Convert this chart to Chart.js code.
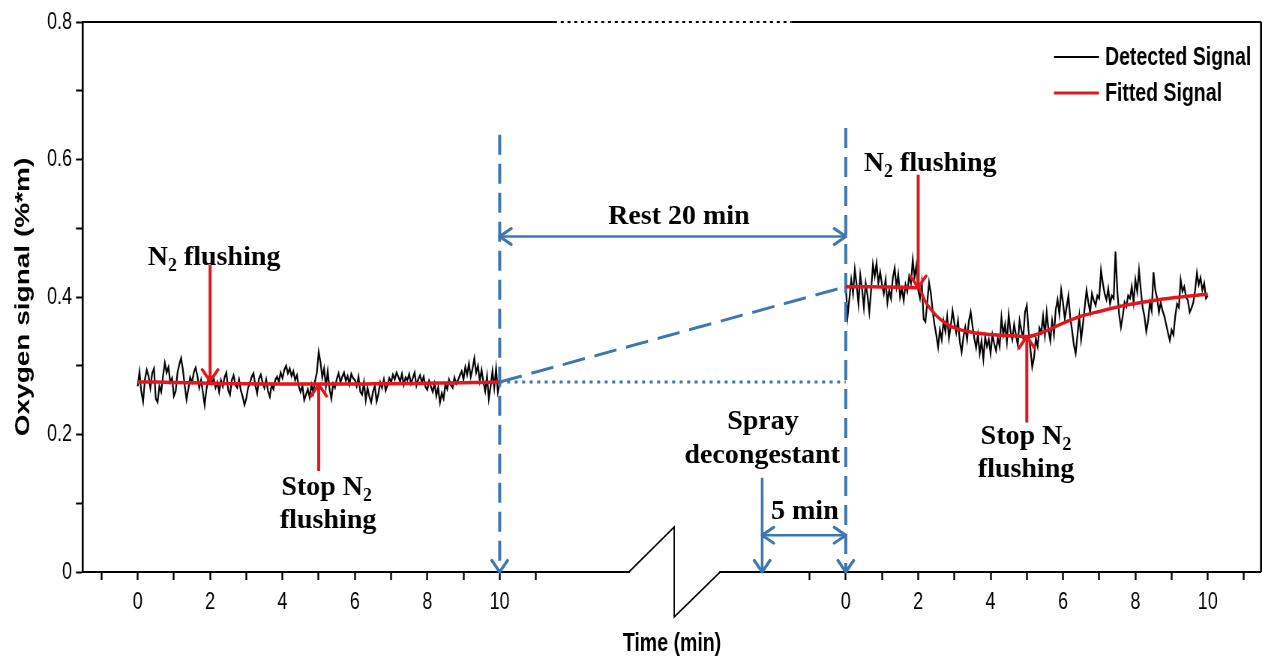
<!DOCTYPE html>
<html>
<head>
<meta charset="utf-8">
<script src="https://cdn.jsdelivr.net/npm/chart.js@4.4.0/dist/chart.umd.min.js"></script>
<style>
  html, body { margin: 0; padding: 0; background: #fff; overflow: hidden; }
  /* the original figure is squeezed horizontally; the canvas is drawn wide and shown at 1262px */
  #chart { display: block; width: 1262px !important; height: 659px !important; }
</style>
</head>
<body>
<canvas id="chart" width="1683" height="659" style="width:1262px;height:659px"></canvas>
<script>
// sampling step of the detected trace (min)
const STEP = 0.05;
// the second session is drawn after the axis break, shifted by this many axis units
const RIGHT_SHIFT = 19.56;

// detected signal, first session, t = 0 .. 10 min
const detectedBefore = [
  0.270, 0.291, 0.262, 0.248, 0.280, 0.294, 0.285, 0.268, 0.289, 0.296,
  0.252, 0.247, 0.270, 0.262, 0.285, 0.304, 0.290, 0.298, 0.276, 0.282,
  0.256, 0.263, 0.290, 0.302, 0.311, 0.294, 0.271, 0.251, 0.266, 0.283,
  0.276, 0.290, 0.297, 0.285, 0.268, 0.279, 0.262, 0.243, 0.266, 0.280,
  0.288, 0.274, 0.281, 0.268, 0.276, 0.262, 0.279, 0.270, 0.283, 0.290,
  0.265, 0.258, 0.279, 0.286, 0.272, 0.268, 0.280, 0.264, 0.255, 0.243,
  0.252, 0.268, 0.275, 0.284, 0.289, 0.271, 0.260, 0.281, 0.287, 0.276,
  0.268, 0.280, 0.263, 0.255, 0.272, 0.266, 0.279, 0.284, 0.277, 0.290,
  0.282, 0.294, 0.300, 0.289, 0.296, 0.285, 0.292, 0.279, 0.286, 0.270,
  0.262, 0.271, 0.250, 0.258, 0.266, 0.254, 0.272, 0.260, 0.278, 0.290,
  0.320, 0.305, 0.283, 0.296, 0.270, 0.292, 0.266, 0.252, 0.274, 0.268,
  0.281, 0.289, 0.276, 0.284, 0.290, 0.278, 0.285, 0.273, 0.288, 0.282,
  0.279, 0.270, 0.284, 0.262, 0.258, 0.276, 0.250, 0.268, 0.255, 0.247,
  0.262, 0.271, 0.248, 0.259, 0.276, 0.268, 0.280, 0.264, 0.272, 0.282,
  0.276, 0.287, 0.280, 0.290, 0.284, 0.277, 0.288, 0.272, 0.283, 0.279,
  0.288, 0.274, 0.282, 0.290, 0.271, 0.280, 0.286, 0.276, 0.284, 0.269,
  0.265, 0.278, 0.270, 0.262, 0.274, 0.256, 0.268, 0.246, 0.260, 0.252,
  0.273, 0.266, 0.280, 0.272, 0.268, 0.283, 0.274, 0.279, 0.286, 0.292,
  0.280, 0.298, 0.287, 0.303, 0.284, 0.296, 0.311, 0.290, 0.300, 0.278,
  0.294, 0.276, 0.263, 0.285, 0.252, 0.270, 0.292, 0.268, 0.296, 0.262,
  0.275
];

// detected signal, second session (after decongestant), t = 0 .. 10 min
const detectedAfter = [
  0.415, 0.372, 0.398, 0.425, 0.405, 0.440, 0.418, 0.390, 0.432, 0.412,
  0.385, 0.420, 0.402, 0.378, 0.410, 0.447, 0.430, 0.449, 0.420, 0.436,
  0.418, 0.405, 0.425, 0.392, 0.410, 0.398, 0.428, 0.442, 0.415, 0.433,
  0.400, 0.412, 0.395, 0.418, 0.408, 0.430, 0.420, 0.454, 0.428, 0.446,
  0.410, 0.398, 0.420, 0.368, 0.364, 0.392, 0.421, 0.405, 0.380, 0.360,
  0.345, 0.327, 0.352, 0.338, 0.365, 0.350, 0.372, 0.340, 0.358, 0.380,
  0.362, 0.348, 0.366, 0.335, 0.320, 0.342, 0.356, 0.338, 0.365, 0.378,
  0.358, 0.340, 0.326, 0.345, 0.318, 0.336, 0.310, 0.342, 0.328, 0.338,
  0.318, 0.345, 0.332, 0.322, 0.340, 0.328, 0.370, 0.345, 0.360, 0.335,
  0.374, 0.350, 0.338, 0.360, 0.345, 0.330, 0.366, 0.352, 0.340, 0.378,
  0.388, 0.350, 0.325, 0.298, 0.312, 0.340, 0.328, 0.355, 0.348, 0.372,
  0.345, 0.378, 0.352, 0.336, 0.365, 0.345, 0.382, 0.396, 0.375, 0.410,
  0.392, 0.368, 0.385, 0.402, 0.370, 0.352, 0.330, 0.318, 0.345, 0.372,
  0.338, 0.360, 0.385, 0.410, 0.392, 0.378, 0.405, 0.395, 0.388, 0.402,
  0.398, 0.439, 0.420, 0.405, 0.396, 0.412, 0.390, 0.402, 0.398, 0.466,
  0.410, 0.375, 0.356, 0.372, 0.392, 0.386, 0.402, 0.398, 0.415, 0.392,
  0.425, 0.408, 0.439, 0.410, 0.385, 0.372, 0.350, 0.365, 0.392, 0.380,
  0.436, 0.410, 0.398, 0.378, 0.392, 0.380, 0.372, 0.360, 0.348, 0.337,
  0.352, 0.345, 0.372, 0.390, 0.385, 0.425, 0.408, 0.415, 0.400, 0.395,
  0.378, 0.384, 0.392, 0.410, 0.435, 0.418, 0.428, 0.410, 0.420, 0.398,
  0.402
];

// fitted signal
const fittedBeforeTime = [0, 0.5, 1, 1.5, 2, 2.5, 3, 3.5, 4, 4.5, 5, 5.5, 6, 6.5, 7, 7.5, 8, 8.5, 9, 9.5, 10];
const fittedBefore = [0.2765, 0.2762, 0.2758, 0.2752, 0.2745, 0.2740, 0.2737, 0.2735, 0.2734, 0.2733, 0.2733,
  0.2734, 0.2735, 0.2737, 0.2739, 0.2742, 0.2745, 0.2749, 0.2753, 0.2758, 0.2763];
const fittedAfterTime = [0, 0.5, 1, 1.5, 2, 2.1, 2.2, 2.35, 2.5, 2.75, 3, 3.5, 4, 4.5, 5, 5.5, 6, 6.5, 7, 7.5, 8, 8.5, 9, 9.5, 10];
const fittedAfter = [0.4150, 0.4148, 0.4146, 0.4143, 0.4135, 0.4050, 0.3930, 0.3820, 0.3730, 0.3620, 0.3550, 0.3485,
  0.3455, 0.3435, 0.3425, 0.3500, 0.3620, 0.3720, 0.3790, 0.3855, 0.3905, 0.3950, 0.3985, 0.4015, 0.4040];

const xTickLabels = ['0', '2', '4', '6', '8', '10'];
const xTickMinutes = [-1, 0, 1, 2, 3, 4, 5, 6, 7, 8, 9, 10, 11];
const yTickLabels = ['0', '0.2', '0.4', '0.6', '0.8'];

const flushOn = 2;   // N2 flushing starts (min)
const flushOff = 5;  // N2 flushing stops (min)
const sprayBefore = 2.31; // spray, minutes before second session (schematic)

const BLUE = '#3d77b1';
const RED = '#e3161e';
const SANS = "'Liberation Sans', Arial, sans-serif";
const SERIF = "'Liberation Serif', 'Times New Roman', serif";

// horizontal squeeze of the displayed canvas
const SQ = 1262 / 1683;
const hx = (px) => px / SQ;

const u = (t, panel) => panel === 1 ? t + RIGHT_SHIFT : t;
const restFrom = u(10, 0);
const restTo = u(0, 1);
const sprayAt = u(-sprayBefore, 1);
const levelBefore = fittedBefore[fittedBefore.length - 1];
const levelAfter = fittedAfter[0];

const seg = (pts) => pts.map(([x, y]) => ({ x, y }));

const lineSet = (data, color, width, dash, order) => ({
  data, borderColor: color, borderWidth: width, borderDash: dash || [],
  pointRadius: 0, tension: 0, fill: false, order
});

const datasets = [
  lineSet(detectedBefore.map((v, i) => ({ x: u(i * STEP, 0), y: v })), '#000', 2.2, null, 4),
  lineSet(detectedAfter.map((v, i) => ({ x: u(i * STEP, 1), y: v })), '#000', 2.2, null, 4),
  Object.assign(lineSet(fittedBefore.map((v, i) => ({ x: u(fittedBeforeTime[i], 0), y: v })), RED, 3.5, null, 2),
    { cubicInterpolationMode: 'monotone' }),
  Object.assign(lineSet(fittedAfter.map((v, i) => ({ x: u(fittedAfterTime[i], 1), y: v })), RED, 3.5, null, 2),
    { cubicInterpolationMode: 'monotone' }),
  // rest period guides
  lineSet(seg([[restFrom, 0.636], [restFrom, 0]]), BLUE, 4, [20, 9], 3),
  lineSet(seg([[restTo, 0.646], [restTo, 0]]), BLUE, 4, [20, 9], 3),
  lineSet(seg([[restFrom, levelBefore], [restTo, levelAfter]]), BLUE, 3, [30, 13], 3),
  lineSet(seg([[restFrom, levelBefore], [restTo, levelBefore]]), BLUE, 3, [4, 6], 3),
  lineSet(seg([[restFrom, 0.488], [restTo, 0.488]]), BLUE, 2.5, null, 3),
  lineSet(seg([[sprayAt, 0.137], [sprayAt, 0]]), BLUE, 3.5, null, 3),
  lineSet(seg([[sprayAt, 0.0535], [restTo, 0.0535]]), BLUE, 2.5, null, 3),
  // red event arrows
  lineSet(seg([[u(flushOn, 0), 0.447], [u(flushOn, 0), 0.2775]]), RED, 4, null, 1),
  lineSet(seg([[u(flushOff, 0), 0.147], [u(flushOff, 0), 0.2727]]), RED, 4, null, 1),
  lineSet(seg([[u(flushOn, 1), 0.578], [u(flushOn, 1), 0.4138]]), RED, 4, null, 1),
  lineSet(seg([[u(flushOff, 1), 0.2175], [u(flushOff, 1), 0.3425]]), RED, 4, null, 1)
];

const heads = [
  { x: restFrom, y: 0, dir: Math.PI / 2, color: BLUE },
  { x: restTo, y: 0, dir: Math.PI / 2, color: BLUE },
  { x: sprayAt, y: 0, dir: Math.PI / 2, color: BLUE },
  { x: restFrom, y: 0.488, dir: Math.PI, color: BLUE },
  { x: restTo, y: 0.488, dir: 0, color: BLUE },
  { x: sprayAt, y: 0.0535, dir: Math.PI, color: BLUE },
  { x: restTo, y: 0.0535, dir: 0, color: BLUE },
  { x: u(flushOn, 0), y: 0.2775, dir: Math.PI / 2, color: RED },
  { x: u(flushOff, 0), y: 0.2727, dir: -Math.PI / 2, color: RED },
  { x: u(flushOn, 1), y: 0.4138, dir: Math.PI / 2, color: RED },
  { x: u(flushOff, 1), y: 0.3425, dir: -Math.PI / 2, color: RED }
];

const notes = [
  { text: 'N_2 flushing', x: 2.11, y: 0.4467 },
  { text: 'Stop N_2', x: 5.22, y: 0.1117 },
  { text: 'flushing', x: 5.26, y: 0.0633 },
  { text: 'Rest 20 min', x: 14.95, y: 0.5069 },
  { text: 'N_2 flushing', x: 21.89, y: 0.583 },
  { text: 'Stop N_2', x: 24.54, y: 0.1855 },
  { text: 'flushing', x: 24.54, y: 0.1375 },
  { text: 'Spray', x: 17.27, y: 0.2073 },
  { text: 'decongestant', x: 17.25, y: 0.1588 },
  { text: '5 min', x: 18.43, y: 0.0774 }
];

const legendItems = [
  { label: 'Detected Signal', color: '#000', width: 2 },
  { label: 'Fitted Signal', color: RED, width: 3 }
];

// arrow heads and annotations are drawn un-squeezed
function drawHead(ctx, px, py, ang, color) {
  const len = 14;
  ctx.save();
  ctx.translate(px, py);
  ctx.scale(1 / SQ, 1);
  ctx.strokeStyle = color;
  ctx.lineWidth = 3;
  ctx.lineCap = 'round';
  ctx.setLineDash([]);
  ctx.beginPath();
  for (const s of [-1, 1]) {
    const a = ang + Math.PI + s * 0.6;
    ctx.moveTo(0, 0);
    ctx.lineTo(len * Math.cos(a), len * Math.sin(a));
  }
  ctx.stroke();
  ctx.restore();
}

function drawNote(ctx, text, cx, by) {
  const big = 'bold 28px ' + SERIF;
  const small = 'bold 18px ' + SERIF;
  const parts = text.split(/_(\d)/).map((t, i) => ({ t, sub: i % 2 === 1 })).filter(p => p.t);
  ctx.save();
  ctx.translate(cx, by);
  ctx.scale(1 / SQ, 1);
  let w = 0;
  parts.forEach(p => { ctx.font = p.sub ? small : big; w += ctx.measureText(p.t).width; });
  let x = -w / 2;
  ctx.textAlign = 'left';
  ctx.textBaseline = 'alphabetic';
  ctx.fillStyle = '#000';
  parts.forEach(p => {
    ctx.font = p.sub ? small : big;
    ctx.fillText(p.t, x, p.sub ? 6 : 0);
    x += ctx.measureText(p.t).width;
  });
  ctx.restore();
}

const overlay = {
  id: 'overlay',
  afterDraw(chart) {
    const { ctx, chartArea: a, scales: { x, y } } = chart;
    ctx.save();

    // frame: top line broken by a dotted stretch, right side
    ctx.strokeStyle = '#000';
    ctx.lineWidth = 2;
    const bl = x.getPixelForValue(11.5), br = x.getPixelForValue(u(-1.5, 1));
    ctx.beginPath();
    ctx.moveTo(a.left, a.top); ctx.lineTo(bl, a.top);
    ctx.moveTo(br, a.top); ctx.lineTo(a.right, a.top);
    ctx.stroke();
    ctx.lineWidth = 2 / SQ;
    ctx.beginPath();
    ctx.moveTo(a.right, a.top); ctx.lineTo(a.right, a.bottom);
    ctx.stroke();
    ctx.lineWidth = 2;
    ctx.setLineDash([4, 5]);
    ctx.beginPath();
    ctx.moveTo(bl, a.top); ctx.lineTo(br, a.top);
    ctx.stroke();
    ctx.setLineDash([]);

    // axis break zigzag
    const z0 = x.getPixelForValue(13.57), zm = x.getPixelForValue(14.82), z1 = x.getPixelForValue(16.09);
    ctx.fillStyle = '#fff';
    ctx.fillRect(z0 + 1, a.bottom - 3, z1 - z0 - 2, 6);
    ctx.lineWidth = 1.8;
    ctx.beginPath();
    ctx.moveTo(z0, y.getPixelForValue(0));
    ctx.lineTo(zm, y.getPixelForValue(0.0655));
    ctx.lineTo(zm, y.getPixelForValue(-0.0655));
    ctx.lineTo(z1, y.getPixelForValue(0));
    ctx.stroke();

    heads.forEach(h => drawHead(ctx, x.getPixelForValue(h.x), y.getPixelForValue(h.y), h.dir, h.color));
    notes.forEach(n => drawNote(ctx, n.text, x.getPixelForValue(n.x), y.getPixelForValue(n.y)));

    // legend, top right inside the plot
    legendItems.forEach((it, i) => {
      const ly = 57 + i * 36;
      ctx.strokeStyle = it.color;
      ctx.lineWidth = it.width;
      ctx.beginPath();
      ctx.moveTo(hx(1054), ly); ctx.lineTo(hx(1099), ly);
      ctx.stroke();
      ctx.fillStyle = '#000';
      ctx.font = 'bold 26px ' + SANS;
      ctx.textAlign = 'left';
      ctx.textBaseline = 'middle';
      ctx.fillText(it.label, hx(1105), ly + 1);
    });
    ctx.restore();
  }
};

new Chart(document.getElementById('chart'), {
  type: 'line',
  data: { datasets },
  options: {
    responsive: false,
    devicePixelRatio: 1,
    animation: false,
    events: [],
    layout: { padding: { top: 22, right: hx(1), left: 0, bottom: 0 } },
    plugins: { legend: { display: false }, tooltip: { enabled: false } },
    scales: {
      x: {
        type: 'linear',
        min: -1.51,
        max: 31.03,
        afterFit: (s) => { s.height = 87; },
        afterBuildTicks: (s) => {
          s.ticks = [...xTickMinutes.map(m => ({ value: u(m, 0) })), ...xTickMinutes.map(m => ({ value: u(m, 1) }))];
        },
        ticks: {
          autoSkip: false,
          maxRotation: 0,
          minRotation: 0,
          padding: 8,
          color: '#000',
          font: { family: SANS, size: 24 },
          callback: (v) => {
            const m = v > 15 ? v - RIGHT_SHIFT : v;
            const r = Math.round(m);
            return Math.abs(m - r) < 1e-6 && xTickLabels.includes(String(r)) ? String(r) : '';
          }
        },
        grid: { drawOnChartArea: false, drawTicks: true, tickLength: 8, tickColor: '#000', tickWidth: 2.4 },
        border: { display: true, color: '#000', width: 2 },
        title: {
          display: true,
          text: 'Time (min)',
          color: '#000',
          font: { family: SANS, size: 26, weight: 'bold' },
          padding: { top: 0, bottom: 0 }
        }
      },
      y: {
        min: 0,
        max: 0.8,
        afterFit: (s) => { s.width = hx(83); },
        ticks: {
          stepSize: 0.1,
          padding: hx(4),
          color: '#000',
          font: { family: SANS, size: 24 },
          callback: (v, i) => i % 2 === 0 ? yTickLabels[i / 2] : ''
        },
        grid: { drawOnChartArea: false, drawTicks: true, tickLength: hx(7), tickColor: '#000', tickWidth: 2 },
        border: { display: true, color: '#000', width: 2.6 },
        title: {
          display: true,
          text: 'Oxygen signal (%*m)',
          color: '#000',
          font: { family: SANS, size: 28, weight: 'bold' },
          padding: { top: 14, bottom: 0 }
        }
      }
    }
  },
  plugins: [overlay]
});
</script>
</body>
</html>
